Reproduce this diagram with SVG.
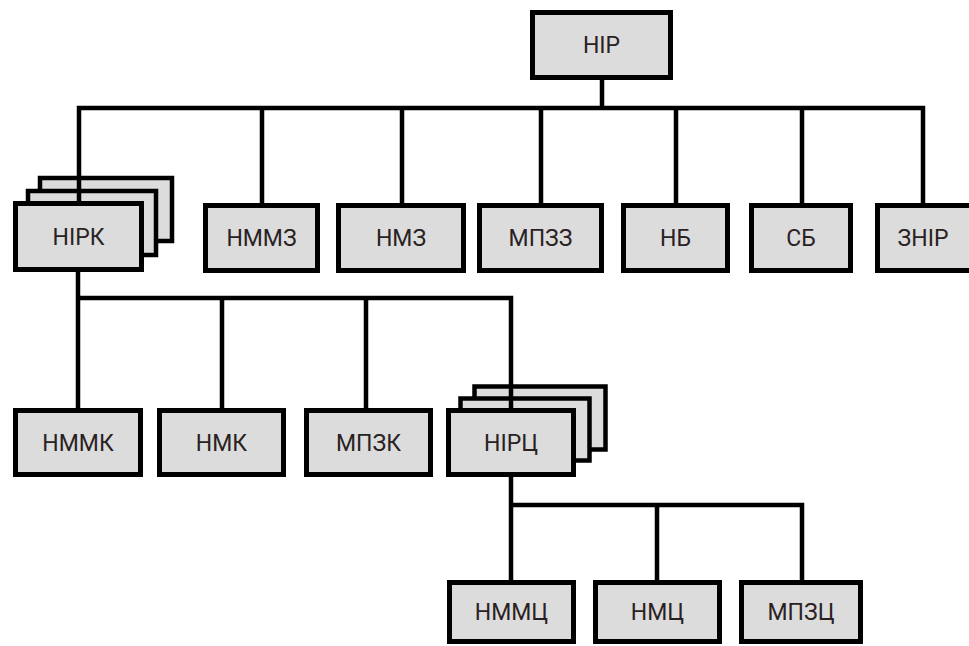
<svg xmlns="http://www.w3.org/2000/svg" width="969" height="646" viewBox="0 0 969 646">
<style>
.box{fill:#dcdcdc;stroke:#000;stroke-width:5}
.sheet{fill:#dcdcdc;stroke:#000;stroke-width:4.5}
.ln{stroke:#000;stroke-width:4.5;fill:none;stroke-linecap:square}
text{font-family:Roboto,"Liberation Sans",sans-serif;font-size:23px;fill:#2a2222;text-anchor:middle}
</style>
<rect width="969" height="646" fill="#fff"/>
<g id="stack-sheets">
<rect class="sheet" x="40" y="178" width="132" height="63"/>
<rect class="sheet" x="28" y="191" width="128" height="64"/>
<rect class="sheet" x="474.5" y="386.5" width="131" height="63"/>
<rect class="sheet" x="460.5" y="398.5" width="129" height="62"/>
</g>
<g id="connectors">
<path class="ln" d="M602 80V108M79 108H923M79 108V203M262 108V205M402 108V205M541 108V205M676 108V205M802 108V205M923 108V205"/>
<path class="ln" d="M78 272V298H511M78 298V408M222 298V408M366 298V408M511 298V408"/>
<path class="ln" d="M511 477V505H802M511 505V580M657 505V580M802 505V580"/>
</g>
<g id="n-nir"><rect class="box" x="532.5" y="12.5" width="138" height="65"/><text x="601.5" y="53">НІР</text></g>
<g id="n-nirk"><rect class="box" x="15.5" y="203.5" width="126" height="66"/><text x="78.5" y="245">НІРК</text></g>
<g id="n-nmmz"><rect class="box" x="205.5" y="205.5" width="112" height="65"/><text x="261.5" y="246">НММЗ</text></g>
<g id="n-nmz"><rect class="box" x="338.5" y="205.5" width="125" height="65"/><text x="401" y="246">НМЗ</text></g>
<g id="n-mpzz"><rect class="box" x="479.5" y="205.5" width="122" height="65"/><text x="540.5" y="246">МПЗЗ</text></g>
<g id="n-nb"><rect class="box" x="623.5" y="205.5" width="104" height="65"/><text x="675.5" y="246">НБ</text></g>
<g id="n-sb"><rect class="box" x="751.5" y="205.5" width="99" height="65"/><text x="801" y="246">СБ</text></g>
<g id="n-znir"><rect class="box" x="877.5" y="205.5" width="100" height="65"/><text x="923" y="246">ЗНІР</text></g>
<g id="n-nmmk"><rect class="box" x="15.5" y="410.5" width="125" height="64"/><text x="78" y="451">НММК</text></g>
<g id="n-nmk"><rect class="box" x="159.5" y="410.5" width="124" height="64"/><text x="221.5" y="451">НМК</text></g>
<g id="n-mpzk"><rect class="box" x="306.5" y="410.5" width="124" height="64"/><text x="368.5" y="451">МПЗК</text></g>
<g id="n-nirc"><rect class="box" x="448.5" y="410.5" width="125" height="64"/><text x="511" y="451">НІРЦ</text></g>
<g id="n-nmmc"><rect class="box" x="449.5" y="582.5" width="124" height="59"/><text x="511.5" y="620">НММЦ</text></g>
<g id="n-nmc"><rect class="box" x="595.5" y="582.5" width="124" height="59"/><text x="657.5" y="620">НМЦ</text></g>
<g id="n-mpzc"><rect class="box" x="741.5" y="582.5" width="119" height="59"/><text x="801" y="620">МПЗЦ</text></g>
</svg>
